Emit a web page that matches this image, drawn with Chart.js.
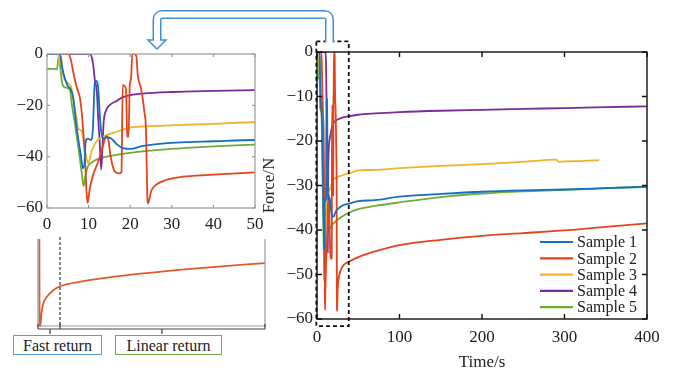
<!DOCTYPE html>
<html>
<head>
<meta charset="utf-8">
<script src="https://cdn.jsdelivr.net/npm/chart.js@4.4.1/dist/chart.umd.min.js"></script>
<style>
  html, body { margin: 0; padding: 0; background: #fff; }
  body { width: 678px; height: 371px; overflow: hidden; position: relative; font-family: 'Liberation Serif', 'DejaVu Serif', serif; }
  canvas, svg { position: absolute; }
  .tag { position: absolute; top: 335px; height: 20px; line-height: 20px; font-size: 16px; text-align: center; color: #222; background: #fff; box-sizing: border-box; }
</style>
</head>
<body>
<canvas id="inset" style="left:0;top:40px" width="275" height="200"></canvas>
<canvas id="detail" style="left:0;top:230px" width="275" height="110"></canvas>
<canvas id="main" style="left:250px;top:30px" width="410" height="341"></canvas>
<div class="tag" style="left:13px;width:89px;border:1.5px solid #5b9bd5">Fast return</div>
<div class="tag" style="left:115px;width:107px;border:1.5px solid #70ad47">Linear return</div>
<svg width="678" height="60" style="left:0;top:0">
  <path d="M329.5,42 V20 Q329.5,14.5 324,14.5 H162.5 Q157,14.5 157,20 V40.5" fill="none" stroke="#3f8fd6" stroke-width="9"/>
  <path d="M329.5,43 V20 Q329.5,14.5 324,14.5 H162.5 Q157,14.5 157,20 V41" fill="none" stroke="#fff" stroke-width="6"/>
  <polygon points="148,40 166,40 157,49" fill="#fff"/>
  <polyline points="154,40 148,40 157,49 166,40 160,40" fill="none" stroke="#3f8fd6" stroke-width="1.5"/>
</svg>
<script>
const sampleLabels = ['Sample 1', 'Sample 2', 'Sample 3', 'Sample 4', 'Sample 5'];
const sampleColors = ['#1470c4', '#e5431d', '#f0b229', '#7a2b9c', '#6cad38'];

const s1Time = [0, 3.1, 3.6, 4.2, 5.0, 5.6, 6.3, 7.0, 7.6, 8.2, 8.6, 9.0, 9.3, 9.8, 10.5, 11.0, 11.5, 11.9, 12.3, 12.7, 13.1, 13.7, 14.5, 15.5, 17.0, 18.5, 20, 23, 27, 31, 40, 50, 70, 100, 150, 200, 250, 300, 350, 400];
const s1Force = [0, 0, -5, -9, -12.5, -13.5, -17, -27, -34, -40, -44.5, -43, -34, -33, -33.5, -30, -11, -10.5, -13, -24, -31, -33, -32.5, -33, -35.5, -36.8, -37, -35.8, -35, -34.5, -34, -33.5, -33.3, -32.5, -31.9, -31.4, -31.1, -30.9, -30.6, -30.3];

const s2Time = [0, 4.3, 5.1, 5.7, 6.3, 7.1, 7.5, 7.9, 8.3, 8.7, 9.1, 9.5, 9.75, 10.3, 11.1, 12.3, 13.5, 14.2, 14.7, 15.3, 16.3, 17.5, 17.9, 18.2, 18.6, 19.0, 19.3, 19.6, 19.9, 20.2, 20.5, 21.0, 21.5, 21.8, 22.6, 23.0, 23.4, 23.8, 24.1, 24.3, 25, 26.2, 28.6, 32.6, 39, 50, 60, 80, 100, 150, 200, 250, 300, 350, 400];
const s2Force = [0, 0, 0, -2, -7, -12.7, -14.7, -17, -22, -30, -39, -53.6, -58, -52.3, -47, -42, -35.5, -32, -33, -40, -45.8, -46.5, -46, -12, -12.5, -14, -32, -32.2, -12, -9.5, 0, 0, -1, -8, -13.4, -17.3, -22.5, -30, -55, -58.2, -53.6, -51, -49.1, -47.8, -47.1, -46.1, -45.4, -44.3, -43.4, -42.2, -41.3, -40.7, -40.1, -39.3, -38.5];

const s3Time = [0, 2.5, 2.8, 3.1, 3.4, 3.9, 4.7, 5.9, 6.3, 7.1, 7.5, 8.3, 9.0, 9.5, 9.9, 10.7, 11.9, 13.5, 16.7, 19.9, 25, 31, 40, 50, 70, 100, 150, 200, 250, 290, 293, 300, 320, 342];
const s3Force = [0, 0, -1, -4, -1, -8.2, -10.8, -13.4, -18, -25, -29, -30, -36, -40.6, -42.6, -38, -34, -32.2, -30.3, -28.7, -28.1, -27.7, -27.2, -26.6, -26.5, -26.1, -25.6, -25.2, -24.7, -24.2, -24.7, -24.6, -24.5, -24.3];

const s4Time = [0, 10.3, 11, 11.5, 12, 12.3, 12.7, 13.0, 13.3, 13.6, 14.2, 15, 16.5, 18, 20, 23, 30, 40, 50, 70, 100, 150, 200, 250, 300, 350, 400];
const s4Force = [0, 0, -3, -10, -15, -25, -35, -45, -38, -27, -22, -20, -18.5, -17, -16, -15.4, -14.8, -14.4, -14.1, -13.8, -13.5, -13.2, -13, -12.8, -12.6, -12.4, -12.2];

const s5Time = [0, 1.5, 2.4, 2.8, 3.2, 3.6, 4.3, 5.5, 6.0, 6.8, 7.5, 8.0, 8.4, 8.8, 9.3, 9.8, 11, 13, 16, 20, 30, 40, 50, 70, 100, 150, 200, 250, 300, 350, 400];
const s5Force = [-5.8, -5.8, -6, -1, -5, -11, -13, -14, -20, -28, -36, -42, -47, -51.5, -47, -44, -42, -40.5, -39.5, -38.5, -37, -36, -35.3, -34.6, -33.8, -32.6, -31.8, -31.3, -31, -30.6, -30.2];

// schematic of the Sample 1 recovery (no axis units shown)
const detailTime = [0.6, 0.7, 1.0, 1.6, 2.3, 3.8, 6.7, 9.7, 20, 27.3, 45, 71.4, 100];
const detailForce = [100, 3, 1, 17, 26.5, 34, 41.7, 46.3, 52, 55, 60.6, 67, 72.7];

const mainTicksX = [0, 100, 200, 300, 400];
const mainTicksY = [-60, -50, -40, -30, -20, -10, 0];
const insetTicksX = [0, 10, 20, 30, 40, 50];
const insetTicksY = [-60, -40, -20, 0];

const serif = "'Liberation Serif', 'DejaVu Serif', serif";
Chart.defaults.font.family = serif;
Chart.defaults.color = '#222';

const allTimes = [s1Time, s2Time, s3Time, s4Time, s5Time];
const allForces = [s1Force, s2Force, s3Force, s4Force, s5Force];

function buildDatasets(width) {
    return sampleLabels.map((label, i) => ({
        label,
        data: allTimes[i].map((t, k) => ({ x: t, y: allForces[i][k] })),
        borderColor: sampleColors[i],
        borderWidth: width,
        pointRadius: 0,
        cubicInterpolationMode: 'monotone',
        fill: false
    }));
}

const fmt = v => (v < 0 ? '\u2212' + Math.abs(v) : String(v));

const framePlugin = {
    id: 'frame',
    afterDraw(chart, args, opts) {
        const { ctx, chartArea: a, scales } = chart;
        ctx.save();
        ctx.strokeStyle = opts.color;
        ctx.lineWidth = opts.width;
        ctx.strokeRect(a.left, a.top, a.right - a.left, a.bottom - a.top);
        const L = opts.tick;
        ctx.beginPath();
        scales.x.ticks.forEach(t => {
            const px = scales.x.getPixelForValue(t.value);
            ctx.moveTo(px, a.bottom); ctx.lineTo(px, a.bottom - L);
            ctx.moveTo(px, a.top); ctx.lineTo(px, a.top + L);
        });
        scales.y.ticks.forEach(t => {
            const py = scales.y.getPixelForValue(t.value);
            ctx.moveTo(a.left, py); ctx.lineTo(a.left + L, py);
            ctx.moveTo(a.right, py); ctx.lineTo(a.right - L, py);
        });
        ctx.stroke();
        ctx.restore();
    }
};

const zoomBoxPlugin = {
    id: 'zoomBox',
    afterDraw(chart, args, opts) {
        if (!opts.show) return;
        const { ctx, scales } = chart;
        const x0 = scales.x.getPixelForValue(opts.x0), x1 = scales.x.getPixelForValue(opts.x1);
        const y0 = scales.y.getPixelForValue(opts.y0), y1 = scales.y.getPixelForValue(opts.y1);
        ctx.save();
        ctx.setLineDash([4, 3]);
        ctx.lineWidth = 1.8;
        ctx.strokeStyle = '#111';
        ctx.strokeRect(x0, y0, x1 - x0, y1 - y0);
        ctx.restore();
    }
};

const sampleLegendPlugin = {
    id: 'sampleLegend',
    afterDraw(chart, args, opts) {
        if (!opts.show) return;
        const { ctx } = chart;
        ctx.save();
        ctx.font = opts.font;
        ctx.textBaseline = 'middle';
        chart.data.datasets.forEach((ds, i) => {
            const y = opts.y + i * opts.dy;
            ctx.strokeStyle = ds.borderColor;
            ctx.lineWidth = 2.2;
            ctx.beginPath();
            ctx.moveTo(opts.x, y);
            ctx.lineTo(opts.x + opts.len, y);
            ctx.stroke();
            ctx.fillStyle = '#222';
            ctx.fillText(ds.label, opts.x + opts.len + 4, y + 1);
        });
        ctx.restore();
    }
};

function axisStyle(min, max, ticks, fontSize, pad) {
    return {
        type: 'linear',
        min, max,
        afterBuildTicks: axis => { axis.ticks = ticks.map(v => ({ value: v })); },
        grid: { display: false, drawTicks: false },
        border: { display: false },
        ticks: { color: '#222', padding: pad, font: { family: serif, size: fontSize }, callback: fmt, maxRotation: 0, autoSkip: false }
    };
}

// fix axis sizes so the plot areas land where the reference has them
function fixX(h) {
    return s => { s.height = h; s.paddingLeft = 0; s.paddingRight = 0; };
}
function fixY(w) {
    return s => { s.width = w; s.paddingTop = 0; s.paddingBottom = 0; };
}

// main chart
const mainX = axisStyle(0, 400, mainTicksX, 17, 8);
mainX.title = { display: true, text: 'Time/s', color: '#222', font: { family: serif, size: 17 }, padding: { top: 0, bottom: -2 } };
mainX.afterFit = fixX(52);
const mainY = axisStyle(-60, 0, mainTicksY, 17, 4);
mainY.title = { display: true, text: 'Force/N', color: '#222', font: { family: serif, size: 17 }, padding: { top: 9, bottom: 0 } };
mainY.afterFit = fixY(67);

new Chart(document.getElementById('main'), {
    type: 'line',
    data: { datasets: buildDatasets(1.8) },
    options: {
        responsive: false,
        animation: false,
        layout: { autoPadding: false, padding: { left: 0, top: 22, right: 13, bottom: 0 } },
        plugins: {
            legend: { display: false },
            tooltip: { enabled: false },
            frame: { color: '#111', width: 1.4, tick: 5 },
            zoomBox: { show: true, x0: -0.8, x1: 38.5, y0: 2.4, y1: -61.6 },
            sampleLegend: { show: true, x: 290, y: 212, dy: 16.3, len: 33, font: '16px ' + serif }
        },
        scales: { x: mainX, y: mainY }
    },
    plugins: [framePlugin, zoomBoxPlugin, sampleLegendPlugin]
});

// enlarged inset, first 50 s
const insetX = axisStyle(0, 50, insetTicksX, 17, 6);
insetX.afterFit = fixX(32);
const insetY = axisStyle(-60, 0, insetTicksY, 17, 4);
insetY.afterFit = fixY(47);

new Chart(document.getElementById('inset'), {
    type: 'line',
    data: { datasets: buildDatasets(1.8) },
    options: {
        responsive: false,
        animation: false,
        layout: { autoPadding: false, padding: { left: 0, top: 14, right: 20, bottom: 0 } },
        plugins: {
            legend: { display: false },
            tooltip: { enabled: false },
            frame: { color: '#9a9a9a', width: 1.2, tick: 3 }
        },
        scales: { x: insetX, y: insetY }
    },
    plugins: [framePlugin]
});

// schematic of fast / linear return
const detailPlugin = {
    id: 'detailMarks',
    afterDraw(chart) {
        const { ctx, chartArea: a, scales } = chart;
        const xs = scales.x;
        ctx.save();
        ctx.strokeStyle = '#9a9a9a';
        ctx.lineWidth = 1.2;
        ctx.beginPath();
        ctx.moveTo(a.left, a.top); ctx.lineTo(a.left, a.bottom);
        ctx.moveTo(a.right, a.top); ctx.lineTo(a.right, a.bottom);
        ctx.moveTo(a.left, a.bottom - 1); ctx.lineTo(a.right, a.bottom - 1);
        ctx.stroke();
        // bracket under the curve
        const split = xs.getPixelForValue(9.7);
        ctx.strokeStyle = '#444';
        ctx.lineWidth = 1.2;
        ctx.beginPath();
        ctx.moveTo(a.left, a.bottom + 2); ctx.lineTo(a.right, a.bottom + 2);
        [a.left, split, a.right].forEach(px => { ctx.moveTo(px, a.bottom - 3); ctx.lineTo(px, a.bottom + 2); });
        [xs.getPixelForValue(5.3), xs.getPixelForValue(54.6)].forEach(px => { ctx.moveTo(px, a.bottom + 2); ctx.lineTo(px, a.bottom + 7); });
        ctx.stroke();
        ctx.setLineDash([3, 2]);
        ctx.strokeStyle = '#111';
        ctx.lineWidth = 1;
        ctx.beginPath();
        ctx.moveTo(split, a.top - 2); ctx.lineTo(split, a.bottom);
        ctx.stroke();
        ctx.setLineDash([]);
        // legend
        ctx.strokeStyle = '#e8743b';
        ctx.lineWidth = 1.5;
        ctx.beginPath();
        ctx.moveTo(163, 252); ctx.lineTo(187, 252);
        ctx.stroke();
        ctx.font = '16px ' + serif;
        ctx.fillStyle = '#222';
        ctx.textBaseline = 'middle';
        ctx.fillText('Sample 1', 191, 253);
        ctx.restore();
    }
};

new Chart(document.getElementById('detail'), {
    type: 'line',
    data: {
        datasets: [{
            label: 'Sample 1',
            data: detailTime.map((t, k) => ({ x: t, y: detailForce[k] })),
            borderColor: '#e25a2a',
            borderWidth: 1.8,
            pointRadius: 0,
            cubicInterpolationMode: 'monotone'
        }]
    },
    options: {
        responsive: false,
        animation: false,
        layout: { autoPadding: false, padding: { left: 38, top: 9, right: 10, bottom: 13 } },
        plugins: { legend: { display: false }, tooltip: { enabled: false } },
        scales: {
            x: { type: 'linear', min: 0, max: 100, display: false },
            y: { type: 'linear', min: 0, max: 100, display: false }
        }
    },
    plugins: [detailPlugin]
});
</script>
</body>
</html>
